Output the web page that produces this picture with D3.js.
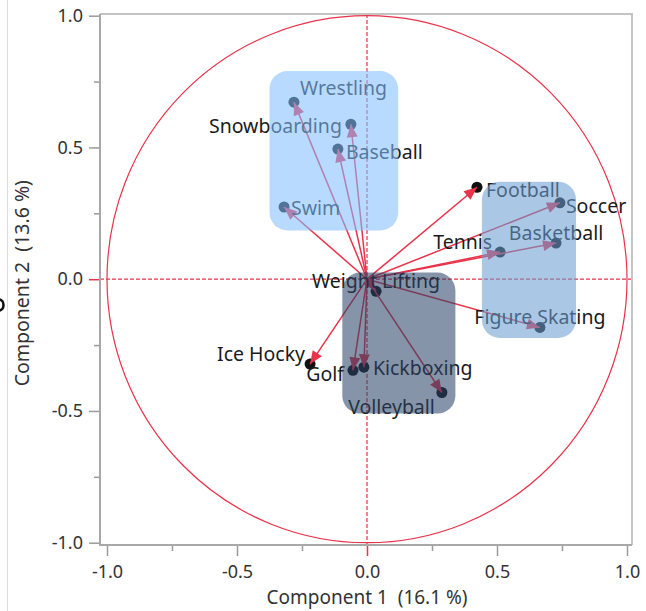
<!DOCTYPE html>
<html>
<head>
<meta charset="utf-8">
<script src="https://cdn.jsdelivr.net/npm/d3@7"></script>
<style>
  html, body { margin: 0; padding: 0; background: #fff; }
  svg { display: block; }
  text { font-family: "Noto Sans", "Open Sans", sans-serif; white-space: pre; }
</style>
</head>
<body>
<svg id="chart" width="646" height="611"></svg>
<script>
// Loadings of each sport on the first two principal components
const categories = ["Wrestling", "Snowboarding", "Baseball", "Swim", "Football", "Soccer",
  "Basketball", "Tennis", "Figure Skating", "Weight Lifting", "Ice Hocky", "Golf",
  "Kickboxing", "Volleyball"];
const component1 = [-0.281, -0.062, -0.112, -0.319, 0.423, 0.742, 0.727, 0.512, 0.665, 0.035, -0.219, -0.054, -0.012, 0.288];
const component2 = [0.672, 0.588, 0.494, 0.274, 0.349, 0.290, 0.137, 0.103, -0.183, -0.046, -0.322, -0.346, -0.334, -0.430];

// Axis ticks
const majorTicks = [-1, -0.5, 0, 0.5, 1];
const tickLabels = ["-1.0", "-0.5", "0.0", "0.5", "1.0"];
const minorTicks = [-0.75, -0.25, 0.25, 0.75];

const xTitle = "Component 1  (16.1 %)";
const yTitle = "Component 2  (13.6 %)";

// Highlight regions (in component units): [x0, x1, y0, y1]
const groups = [
  { name: "upper", extent: [-0.375, 0.12, 0.185, 0.79], fill: "rgb(130,190,255)" },
  { name: "right", extent: [0.442, 0.804, -0.223, 0.37], fill: "rgb(105,158,210)" },
  { name: "lower", extent: [-0.095, 0.34, -0.51, 0.025], fill: "rgb(40,67,102)" }
];

// Label placement relative to each point: [dx, dy, anchor]
const labelLayout = {
  "Wrestling": [6, -7, "start"],
  "Snowboarding": [-9, 9, "end"],
  "Baseball": [8, 10, "start"],
  "Swim": [7, 8, "start"],
  "Football": [9, 10, "start"],
  "Soccer": [6, 10, "start"],
  "Basketball": [0, -3, "middle"],
  "Tennis": [-8, -3, "end"],
  "Figure Skating": [0, -3, "middle"],
  "Weight Lifting": [0, -3, "middle"],
  "Ice Hocky": [-5, -3, "end"],
  "Golf": [-9, 11, "end"],
  "Kickboxing": [9, 8, "start"],
  "Volleyball": [-7, 21, "end"]
};

const points = categories.map((name, i) => ({ name, c1: component1[i], c2: component2[i] }));

const svg = d3.select("#chart");
const red = "#e8334a";

const x = d3.scaleLinear().domain([-1, 1]).range([107, 627]);
const y = d3.scaleLinear().domain([-1, 1]).range([542.7, 15.7]);
const frame = { left: 100, right: 632, top: 14, bottom: 545 };

// faint panel edge and a clipped marker on the far left
svg.append("line").attr("x1", 7.5).attr("x2", 7.5).attr("y1", 0).attr("y2", 611)
  .attr("stroke", "#dcdcdc").attr("stroke-width", 1);
svg.append("ellipse").attr("cx", -1).attr("cy", 305).attr("rx", 4.5).attr("ry", 5.5)
  .attr("fill", "none").attr("stroke", "#111").attr("stroke-width", 2.6);

const plot = svg.append("g");

// unit circle
plot.append("ellipse")
  .attr("cx", x(0)).attr("cy", y(0))
  .attr("rx", x(1) - x(0)).attr("ry", y(0) - y(1))
  .attr("fill", "none").attr("stroke", red).attr("stroke-width", 1.2);

// reference lines through the origin
plot.append("line").attr("x1", x(0)).attr("x2", x(0)).attr("y1", frame.top).attr("y2", frame.bottom)
  .attr("stroke", red).attr("stroke-width", 1.2).attr("stroke-dasharray", "4,2");
plot.append("line").attr("x1", frame.left).attr("x2", frame.right).attr("y1", y(0)).attr("y2", y(0))
  .attr("stroke", red).attr("stroke-width", 1.2).attr("stroke-dasharray", "4,2");

// dots at the loadings
plot.selectAll("circle.pt").data(points).join("circle")
  .attr("class", "pt")
  .attr("cx", d => x(d.c1)).attr("cy", d => y(d.c2)).attr("r", 5.5)
  .attr("fill", "#111");

// arrows from the origin
const arrows = plot.selectAll("g.arrow").data(points).join("g").attr("class", "arrow");
arrows.append("line")
  .attr("x1", x(0)).attr("y1", y(0))
  .attr("x2", d => x(d.c1)).attr("y2", d => y(d.c2))
  .attr("stroke", red).attr("stroke-width", 1.5);
arrows.append("path")
  .attr("d", d => {
    const tx = x(d.c1), ty = y(d.c2);
    const a = Math.atan2(ty - y(0), tx - x(0));
    const len = 13, hw = 5.5;
    const bx = tx - len * Math.cos(a), by = ty - len * Math.sin(a);
    const px = -Math.sin(a) * hw, py = Math.cos(a) * hw;
    return `M${tx},${ty}L${bx + px},${by + py}L${bx - px},${by - py}Z`;
  })
  .attr("fill", red);

// labels
plot.selectAll("text.lbl").data(points).join("text")
  .attr("class", "lbl")
  .attr("x", d => x(d.c1) + labelLayout[d.name][0])
  .attr("y", d => y(d.c2) + labelLayout[d.name][1])
  .attr("text-anchor", d => labelLayout[d.name][2])
  .attr("font-size", 19.5)
  .attr("fill", "#1a1a1a")
  .text(d => d.name);

// translucent group highlights
plot.selectAll("rect.grp").data(groups).join("rect")
  .attr("class", "grp")
  .attr("x", d => x(d.extent[0])).attr("width", d => x(d.extent[1]) - x(d.extent[0]))
  .attr("y", d => y(d.extent[3])).attr("height", d => y(d.extent[2]) - y(d.extent[3]))
  .attr("rx", 18).attr("ry", 18)
  .attr("fill", d => d.fill).attr("fill-opacity", 0.57);

// frame
svg.append("path")
  .attr("d", `M${frame.left},${frame.top}H${frame.right}V${frame.bottom}`)
  .attr("fill", "none").attr("stroke", "#c4c4c4").attr("stroke-width", 2);

// axes
function styleAxis(g) {
  g.select(".domain").remove();
  g.selectAll(".tick line").attr("stroke", "#9a9a9a").attr("stroke-width", 1.5);
  g.selectAll(".tick text").attr("fill", "#333").attr("font-size", 18)
    .attr("font-family", "'Noto Sans', sans-serif");
}

const xAxis = svg.append("g").attr("transform", `translate(0,${frame.bottom})`)
  .call(d3.axisBottom(x).tickValues(majorTicks).tickSize(11).tickPadding(9)
    .tickFormat((d, i) => tickLabels[i]))
  .call(styleAxis);
svg.append("g").attr("transform", `translate(0,${frame.bottom})`)
  .call(d3.axisBottom(x).tickValues(minorTicks).tickSize(6).tickFormat(""))
  .call(styleAxis);
const yAxis = svg.append("g").attr("transform", `translate(${frame.left},0)`)
  .call(d3.axisLeft(y).tickValues(majorTicks).tickSize(11).tickPadding(6)
    .tickFormat((d, i) => tickLabels[i]))
  .call(styleAxis);
svg.append("g").attr("transform", `translate(${frame.left},0)`)
  .call(d3.axisLeft(y).tickValues(minorTicks).tickSize(6).tickFormat(""))
  .call(styleAxis);

// zero ticks pick up the reference line colour
xAxis.selectAll(".tick").filter(d => d === 0).select("line").attr("stroke", red);
yAxis.selectAll(".tick").filter(d => d === 0).select("line").attr("stroke", red);

// axis lines
svg.append("path")
  .attr("d", `M${frame.left},${frame.top}V${frame.bottom}H${frame.right}`)
  .attr("fill", "none").attr("stroke", "#a8a8a8").attr("stroke-width", 2);

// axis titles
svg.append("text").attr("x", x(0)).attr("y", 604).attr("text-anchor", "middle")
  .attr("font-size", 19).attr("fill", "#333").text(xTitle);
svg.append("text").attr("transform", `translate(29,${y(0) + 4}) rotate(-90)`)
  .attr("text-anchor", "middle").attr("font-size", 19.5).attr("fill", "#333").text(yTitle);
</script>
</body>
</html>
